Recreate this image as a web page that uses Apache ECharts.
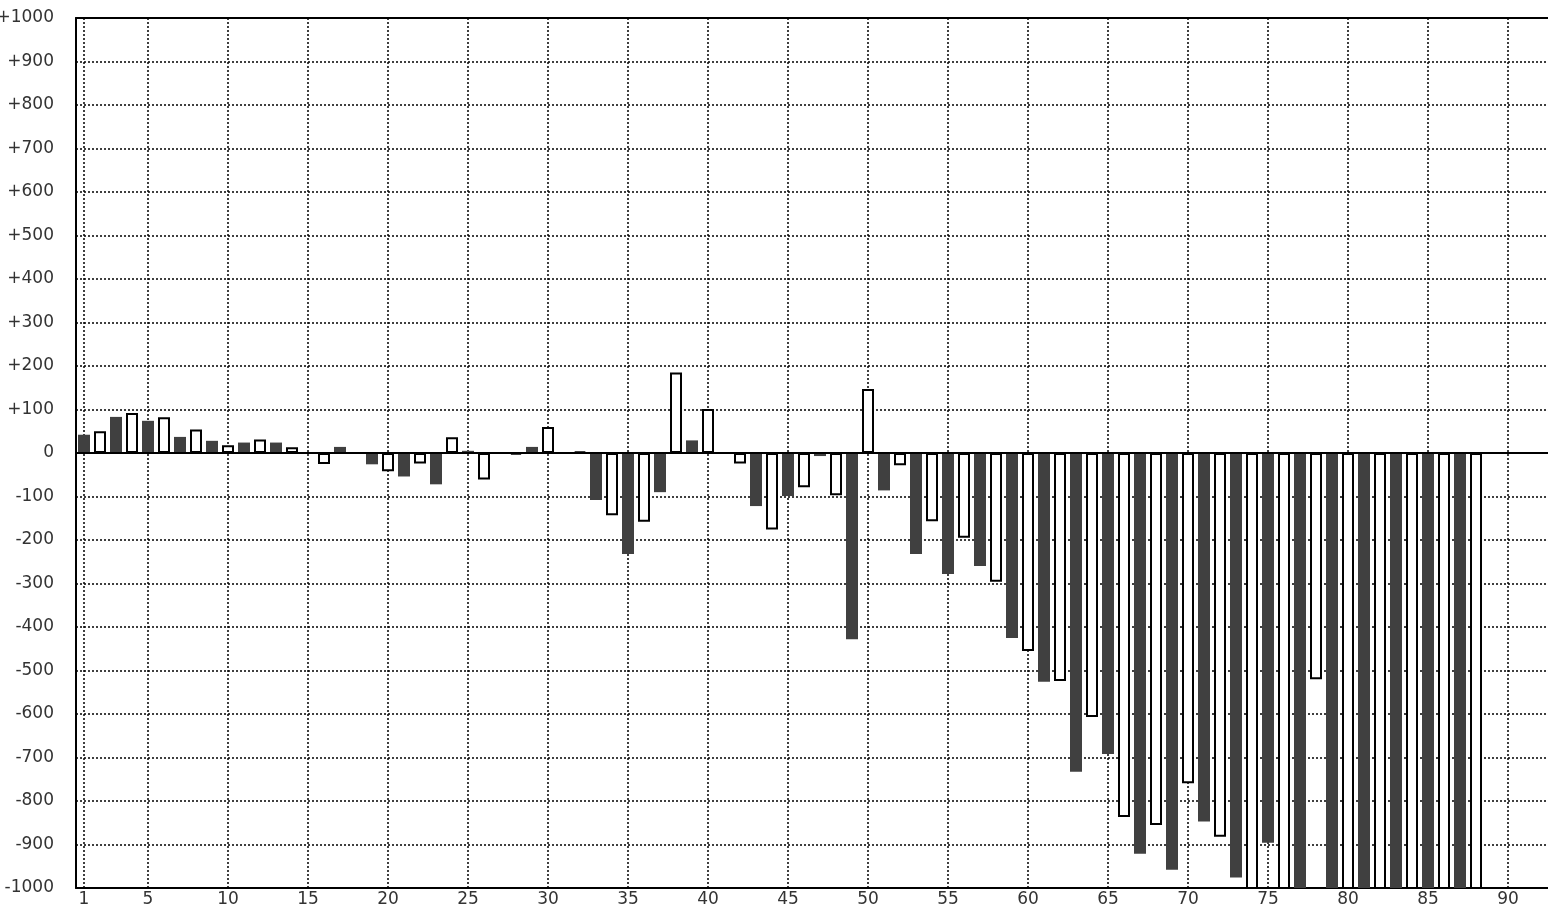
<!DOCTYPE html>
<html>
<head>
<meta charset="utf-8">
<script src="https://cdn.jsdelivr.net/npm/echarts@6/dist/echarts.min.js"></script>
<style>
html,body{margin:0;padding:0;background:#fff;}
#chart{width:1548px;height:910px;}
</style>
</head>
<body>
<div id="chart"></div>
<script>
// Bar values, index 1..88 (values below -1000 run off the chart)
const barValues = [
  42, 50, 83, 92, 74, 82, 37, 54, 28, 18,
  24, 31, 24, 13, 2, -25, 14, 0, -26, -42,
  -54, -24, -72, 36, 5, -61, 0, -4, 14, 60,
  0, 3, -108, -143, -232, -158, -90, 185, 29, 101,
  -2, -24, -122, -176, -99, -79, -7, -97, -428, 147,
  -86, -28, -232, -157, -278, -195, -260, -296, -425, -455,
  -526, -524, -733, -607, -692, -837, -921, -855, -958, -759,
  -847, -882, -976, -1100, -896, -1100, -1100, -520, -1100, -1100,
  -1100, -1100, -1100, -1100, -1100, -1100, -1100, -1100
];
const xTickValues = [1, 5, 10, 15, 20, 25, 30, 35, 40, 45, 50, 55, 60, 65, 70, 75, 80, 85, 90];
const yMin = -1000, yMax = 1000, yStep = 100;

const FONT = '"DejaVu Sans", sans-serif';
const darkStyle = { color: '#404040', borderWidth: 0 };
const whiteStyle = { color: '#ffffff', borderColor: '#000000', borderWidth: 2 };
const dotted = { color: '#000', width: 1.5, type: [2, 2] };

const barData = barValues.map((v, i) => ({
  value: [i + 1, v],
  itemStyle: (i % 2 === 0) ? darkStyle : whiteStyle
}));

const chart = echarts.init(document.getElementById('chart'), null, { renderer: 'canvas' });
chart.setOption({
  animation: false,
  backgroundColor: '#ffffff',
  grid: { left: 76, right: 0, top: 18, bottom: 22, containLabel: false, outerBoundsMode: 'none' },
  xAxis: [{
    type: 'value', min: 0.5, max: 92.5, position: 'bottom',
    axisLine: { show: true, onZero: false, lineStyle: { color: '#000', width: 2 } },
    axisTick: { show: false },
    splitLine: { show: false },
    axisLabel: { customValues: xTickValues, color: '#333', fontSize: 17, fontFamily: FONT, margin: 3 }
  }, {
    type: 'value', min: 0.5, max: 92.5, position: 'top',
    axisLine: { show: true, onZero: false, lineStyle: { color: '#000', width: 2 } },
    axisTick: { show: false }, axisLabel: { show: false }, splitLine: { show: false }
  }],
  yAxis: {
    type: 'value', min: yMin, max: yMax, interval: yStep, z: 0,
    axisLine: { show: true, onZero: false, lineStyle: { color: '#000', width: 2 } },
    axisTick: { show: false },
    splitLine: { show: true, lineStyle: dotted },
    axisLabel: {
      color: '#333', fontSize: 17, fontFamily: FONT, margin: 22,
      formatter: v => v > 0 ? '+' + v : (v < 0 ? '-' + Math.abs(v) : '0')
    }
  },
  series: [{
    type: 'line', data: [], z: 0, silent: true,
    markLine: {
      z: 0, silent: true, symbol: ['none', 'none'], label: { show: false },
      lineStyle: dotted,
      data: xTickValues.map(v => ({ xAxis: v }))
    }
  }, {
    type: 'bar', data: barData, barWidth: 12, z: 2, clip: true, silent: true
  }, {
    type: 'line', data: [], z: 3, silent: true,
    markLine: {
      z: 5, silent: true, symbol: ['none', 'none'], label: { show: false },
      lineStyle: { color: '#000', width: 2, type: 'solid' },
      data: [{ yAxis: 0 }]
    }
  }]
});
</script>
</body>
</html>
